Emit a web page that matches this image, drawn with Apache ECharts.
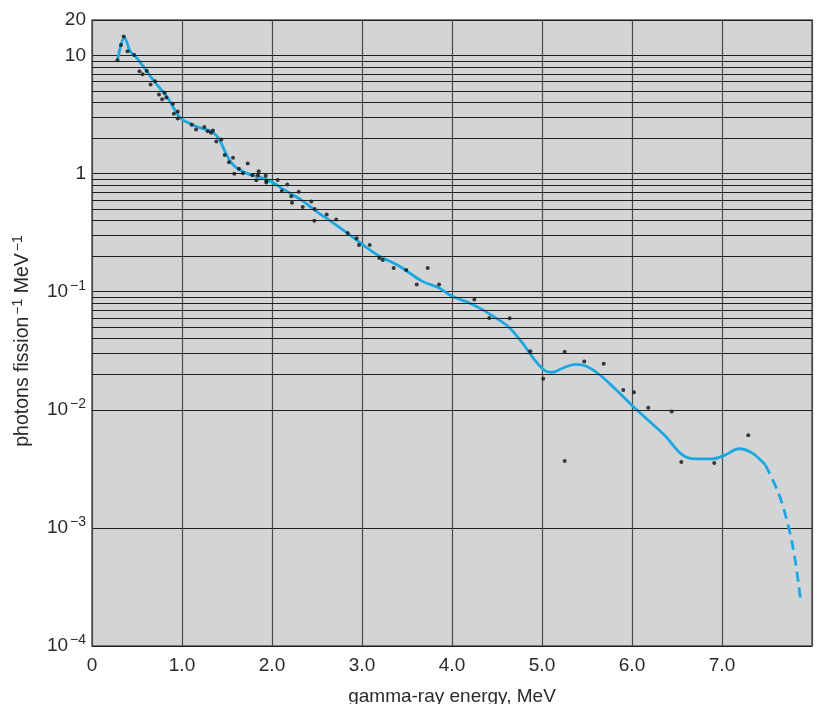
<!DOCTYPE html>
<html>
<head>
<meta charset="utf-8">
<script src="https://cdn.jsdelivr.net/npm/echarts@6/dist/echarts.min.js"></script>
<style>
html,body{margin:0;padding:0;background:#fff;}
#chart{width:819px;height:704px;}
</style>
</head>
<body>
<div id="chart"></div>
<script>
// Measured data points (energy MeV, photons fission^-1 MeV^-1)
const pointE = [0.283,0.322,0.352,0.395,0.469,0.527,0.562,0.608,0.651,0.701,0.744,0.779,0.806,0.826,0.899,0.910,0.953,0.953,
  1.108,1.156,1.248,1.286,1.322,1.344,1.381,1.437,1.474,1.522,1.567,1.581,1.633,1.678,1.730,1.781,1.826,1.844,1.852,1.930,1.937,1.937,
  2.063,2.108,2.170,2.214,2.222,2.297,2.341,2.437,2.474,2.470,2.608,2.714,2.841,2.941,2.967,
  3.086,3.192,3.230,3.352,3.492,3.608,3.730,3.856,
  4.248,4.414,4.641,4.870,5.014,5.252,5.252,5.470,5.686,5.903,6.022,6.181,6.441,6.548,6.914,7.292];
const pointV = [9.12,12.3,14.5,10.9,10.1,7.36,6.93,7.40,5.68,6.05,4.67,4.26,4.85,4.42,3.91,3.21,3.36,2.93,
  2.59,2.37,2.48,2.28,2.22,2.32,1.87,1.95,1.44,1.25,1.36,1.00,1.10,1.01,1.22,0.967,0.877,0.967,1.05,0.962,0.871,0.843,
  0.883,0.712,0.811,0.645,0.566,0.703,0.523,0.581,0.503,0.400,0.450,0.408,0.314,0.284,0.249,
  0.249,0.193,0.186,0.159,0.153,0.115,0.159,0.115,
  0.0861,0.0600,0.0596,0.0313,0.0183,0.0311,0.00368,0.0257,0.0245,0.0147,0.0141,0.0104,0.00967,0.00361,0.00354,0.00608];

// Fitted curve (solid part)
const curveE = [0.283,0.36,0.426,0.485,0.543,0.601,0.678,0.756,0.834,0.911,0.988,1.111,1.222,1.333,1.408,1.463,1.519,1.592,1.703,1.814,1.963,
  2.148,2.333,2.481,2.667,2.852,3.0,3.186,3.408,3.667,3.852,3.997,4.186,4.333,4.481,4.630,4.778,4.926,5.037,5.111,5.222,5.370,5.481,5.630,5.814,
  6.0,6.186,6.370,6.556,6.703,6.889,7.037,7.186,7.333,7.481];
const curveV = [9.12,14.2,10.8,9.8,8.6,7.55,6.21,5.27,4.48,3.56,2.93,2.61,2.41,2.26,1.98,1.63,1.34,1.14,1.02,0.955,0.877,
  0.721,0.593,0.487,0.388,0.308,0.253,0.202,0.166,0.123,0.108,0.0918,0.0807,0.0709,0.0604,0.0503,0.0372,0.0260,0.0214,0.0208,0.0224,0.0243,0.0236,0.0201,0.0150,
  0.0109,0.00809,0.00600,0.00418,0.00384,0.00384,0.00415,0.00468,0.00432,0.00342];
// Extrapolated curve (dashed part)
const dashE = [7.481,7.630,7.741,7.814,7.878];
const dashV = [0.00342,0.00195,0.00101,0.000528,0.000229];

// Axis settings
const xTicks = [0,1,2,3,4,5,6,7];
const yMin = 1e-4, yMax = 20;
const minorGrid = [];
for (let d = -4; d <= 0; d++) for (let k = 2; k <= 9; k++) minorGrid.push(k * Math.pow(10, d));

const FONT = 'Liberation Sans';
const TXT = '#2a2a2a';
const chart = echarts.init(document.getElementById('chart'), null, {renderer: 'canvas'});
const zip = (a, b) => a.map((v, i) => [v, b[i]]);

chart.setOption({
  animation: false,
  backgroundColor: '#ffffff',
  grid: {left: 92, right: 7, top: 20, bottom: 58, containLabel: false, outerBoundsMode: 'none',
    show: true, backgroundColor: '#d3d4d6', borderColor: '#555', borderWidth: 1.5},
  xAxis: {
    type: 'value', min: 0, max: 8, interval: 1,
    name: 'gamma-ray energy, MeV', nameLocation: 'middle', nameGap: 41,
    nameTextStyle: {fontFamily: FONT, fontSize: 19, color: TXT},
    axisLine: {show: false}, axisTick: {show: false},
    axisLabel: {fontFamily: FONT, fontSize: 19, color: TXT, margin: 10,
      formatter: v => xTicks.indexOf(v) < 0 ? '' : (v === 0 ? '0' : v.toFixed(1))},
    splitLine: {show: true, lineStyle: {color: '#4a4a4a', width: 1.2}}
  },
  yAxis: {
    type: 'log', logBase: 10, min: yMin, max: yMax,
    name: 'photons fission{s|−1} MeV{s|−1}', nameLocation: 'middle', nameGap: 57, nameRotate: 90,
    nameTextStyle: {fontFamily: FONT, fontSize: 19.5, color: TXT, padding: [0, 16, 0, 0],
      rich: {s: {fontFamily: FONT, fontSize: 14, color: TXT, padding: [0, 0, 10, 2]}}},
    axisLine: {show: false}, axisTick: {show: false},
    axisLabel: {fontFamily: FONT, fontSize: 19, color: TXT, margin: 6, showMaxLabel: true, showMinLabel: true,
      formatter: v => {
        if (v >= 1) return '{b|' + Math.round(v) + '}';
        const e = Math.round(Math.log10(v));
        return '{b|10}{s|−' + (-e) + '}';
      },
      rich: {
        b: {fontFamily: FONT, fontSize: 19, color: TXT},
        s: {fontFamily: FONT, fontSize: 14, color: TXT, padding: [0, 0, 11, 2]}
      }},
    splitLine: {show: true, lineStyle: {color: '#1e1e1e', width: 1.2}}
  },
  series: [
    {
      type: 'line', data: zip(curveE, curveV), smooth: 0.35, showSymbol: false,
      lineStyle: {color: '#19a8e2', width: 2.8}, z: 3,
      markLine: {silent: true, symbol: ['none', 'none'], label: {show: false}, animation: false,
        lineStyle: {color: '#1e1e1e', width: 1, type: 'solid'},
        data: minorGrid.map(v => ({yAxis: v}))}
    },
    {
      type: 'line', data: zip(dashE, dashV), smooth: 0.35, showSymbol: false,
      lineStyle: {color: '#19a8e2', width: 2.8, type: [10, 6]}, z: 3
    },
    {
      type: 'scatter', data: zip(pointE, pointV), symbol: 'circle', symbolSize: 4,
      itemStyle: {color: '#111'}, z: 4
    }
  ]
});
</script>
</body>
</html>
